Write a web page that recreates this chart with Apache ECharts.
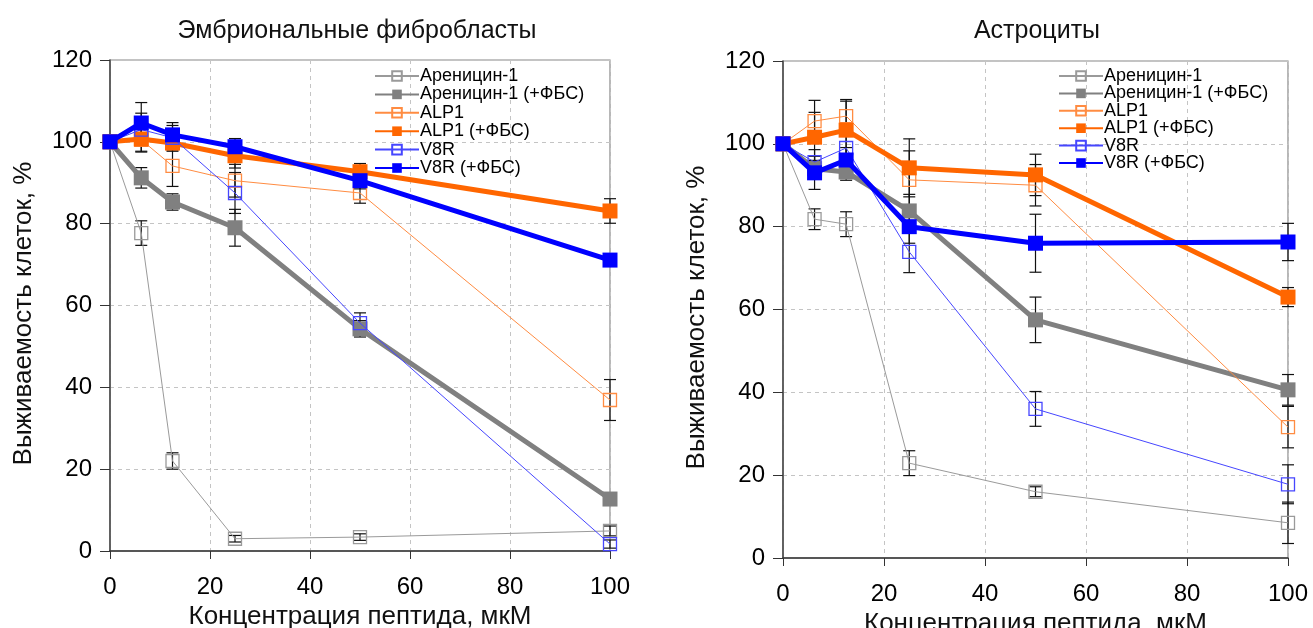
<!DOCTYPE html>
<html lang="ru">
<head>
    <meta charset="UTF-8">
    <title>Выживаемость клеток</title>
    <script src="https://cdn.jsdelivr.net/npm/echarts@6/dist/echarts.min.js"></script>
    <style>
        html, body { margin: 0; padding: 0; background: #fff; }
        #main { width: 1313px; height: 628px; }
    </style>
</head>
<body>
<div id="main"></div>
<script>
    // концентрации пептида, мкМ
    var conc = [0, 6.25, 12.5, 25, 50, 100];
    var names = ['Ареницин-1', 'Ареницин-1 (+ФБС)', 'ALP1', 'ALP1 (+ФБС)', 'V8R', 'V8R (+ФБС)'];
    var xTicks = [0, 20, 40, 60, 80, 100];
    var yTicks = [0, 20, 40, 60, 80, 100, 120];

    // Эмбриональные фибробласты
    var fibAr = [100, 77.7, 22.0, 3.0, 3.4, 4.9];
    var fibArErr = [0, 3, 2, 0.8, 0.8, 1.2];
    var fibArF = [100, 91.2, 85.3, 79.0, 54.3, 12.7];
    var fibArFErr = [0, 2.5, 2, 4.5, 2, 0.5];
    var fibAlp = [100, 100.5, 94.1, 90.5, 87.5, 36.9];
    var fibAlpErr = [0, 3, 5, 4, 2.5, 5];
    var fibAlpF = [100, 100.7, 99.7, 96.6, 92.7, 83.1];
    var fibAlpFErr = [0, 3, 2, 3, 2, 3];
    var fibV8 = [100, 103, 101, 87.5, 55.7, 1.7];
    var fibV8Err = [0, 4, 3, 5, 2.5, 1];
    var fibV8F = [100, 104.6, 101.7, 98.8, 90.5, 71.1];
    var fibV8FErr = [0, 5, 3, 2, 2, 1];

    // Астроциты
    var astAr = [100, 81.8, 80.6, 22.9, 16.0, 8.5];
    var astArErr = [0, 2.5, 3, 3, 1.2, 5];
    var astArF = [100, 94, 93.2, 83.8, 57.5, 40.6];
    var astArFErr = [0, 2, 2, 4, 5.5, 3.7];
    var astAlp = [100, 105.5, 106.7, 91.3, 90.0, 31.6];
    var astAlpErr = [0, 5, 4, 7, 5, 5];
    var astAlpF = [100, 101.6, 103.3, 94.2, 92.5, 63.0];
    var astAlpFErr = [0, 6, 7, 7, 5, 2.3];
    var astV8 = [100, 95.6, 99.0, 73.9, 36.0, 17.8];
    var astV8Err = [0, 3, 3, 5, 4.2, 4.7];
    var astV8F = [100, 93.0, 96.1, 80.0, 76.0, 76.3];
    var astV8FErr = [0, 4, 3, 4, 7, 4.5];

    // стиль серий: цвет, толщина линии, полый маркер или нет
    var styles = [
        {color: '#9a9a9a', width: 1, hollow: true},
        {color: '#808080', width: 5, hollow: false},
        {color: '#ff8c42', width: 1, hollow: true},
        {color: '#ff6600', width: 5, hollow: false},
        {color: '#4646ff', width: 1, hollow: true},
        {color: '#0000ff', width: 5, hollow: false}
    ];

    var font = 'Liberation Sans, Arial, sans-serif';

    function pairs(ys) {
        var out = [];
        for (var i = 0; i < conc.length; i++) out.push([conc[i], ys[i]]);
        return out;
    }

    function lineSeries(idx, ys, gi) {
        var st = styles[idx];
        return {
            name: names[idx],
            type: 'line',
            xAxisIndex: gi,
            yAxisIndex: gi,
            data: pairs(ys),
            symbol: 'rect',
            symbolSize: st.hollow ? 13 : 15,
            lineStyle: {color: st.color, width: st.width},
            itemStyle: st.hollow
                ? {color: 'rgba(255,255,255,0)', borderColor: st.color, borderWidth: 1.3}
                : {color: st.color, borderWidth: 0},
            emphasis: {disabled: true},
            z: 3 + idx
        };
    }

    function errSeries(ys, errs, gi) {
        var d = [];
        for (var i = 0; i < conc.length; i++) {
            if (errs[i] > 0) d.push([conc[i], ys[i], errs[i]]);
        }
        return {
            type: 'custom',
            xAxisIndex: gi,
            yAxisIndex: gi,
            data: d,
            z: 2,
            silent: true,
            renderItem: function (params, api) {
                var x = api.value(0), y = api.value(1), e = api.value(2);
                var top = api.coord([x, y + e]);
                var bot = api.coord([x, y - e]);
                var w = 6;
                var st = {stroke: '#111', lineWidth: 1.2};
                return {
                    type: 'group',
                    children: [
                        {type: 'line', shape: {x1: top[0], y1: top[1], x2: bot[0], y2: bot[1]}, style: st},
                        {type: 'line', shape: {x1: top[0] - w, y1: top[1], x2: top[0] + w, y2: top[1]}, style: st},
                        {type: 'line', shape: {x1: bot[0] - w, y1: bot[1], x2: bot[0] + w, y2: bot[1]}, style: st}
                    ]
                };
            }
        };
    }

    function xAxisFor(gi, gap) {
        return {
            type: 'value', gridIndex: gi, min: xTicks[0], max: xTicks[xTicks.length - 1], interval: 20,
            name: 'Концентрация пептида, мкМ', nameLocation: 'middle', nameGap: gap,
            nameTextStyle: {fontFamily: font, fontSize: 26, color: '#111'},
            axisLine: {show: true, onZero: false, lineStyle: {color: '#333', width: 1.5}},
            axisTick: {show: true, inside: false, length: 8, lineStyle: {color: '#333'}},
            axisLabel: {fontFamily: font, fontSize: 24, color: '#000', margin: 24},
            splitLine: {show: true, lineStyle: {color: '#c4c4c4', type: [4, 4]}}
        };
    }

    function yAxisFor(gi) {
        return {
            type: 'value', gridIndex: gi, min: yTicks[0], max: yTicks[yTicks.length - 1], interval: 20,
            name: 'Выживаемость клеток, %', nameLocation: 'middle', nameGap: 73,
            nameTextStyle: {fontFamily: font, fontSize: 26, color: '#111', padding: [0, 16, 0, 0]},
            axisLine: {show: true, onZero: false, lineStyle: {color: '#444', width: 1.5}},
            axisTick: {show: true, inside: false, length: 10, lineStyle: {color: '#333'}},
            axisLabel: {fontFamily: font, fontSize: 24, color: '#000', margin: 18},
            splitLine: {show: true, lineStyle: {color: '#c4c4c4', type: [4, 4]}}
        };
    }

    function legendFor(left, top, gap) {
        return {
            orient: 'vertical', left: left, top: top, padding: 0,
            itemWidth: 44, itemHeight: 12, itemGap: gap,
            data: names,
            selectedMode: false,
            textStyle: {fontFamily: font, fontSize: 18, lineHeight: 16, color: '#000', padding: [0, 0, 0, -4]}
        };
    }

    var myChart = echarts.init(document.getElementById('main'));

    var series = [];
    var fib = [fibAr, fibArF, fibAlp, fibAlpF, fibV8, fibV8F];
    var fibE = [fibArErr, fibArFErr, fibAlpErr, fibAlpFErr, fibV8Err, fibV8FErr];
    var ast = [astAr, astArF, astAlp, astAlpF, astV8, astV8F];
    var astE = [astArErr, astArFErr, astAlpErr, astAlpFErr, astV8Err, astV8FErr];
    for (var i = 0; i < names.length; i++) {
        series.push(errSeries(fib[i], fibE[i], 0));
        series.push(errSeries(ast[i], astE[i], 1));
    }
    for (var j = 0; j < names.length; j++) {
        series.push(lineSeries(j, fib[j], 0));
        series.push(lineSeries(j, ast[j], 1));
    }

    var option = {
        backgroundColor: '#fff',
        animation: false,
        title: [
            {text: 'Эмбриональные фибробласты', left: 352, top: 14, textAlign: 'center',
                textStyle: {fontFamily: font, fontSize: 25, fontWeight: 'normal', color: '#111'}},
            {text: 'Астроциты', left: 1032, top: 14, textAlign: 'center',
                textStyle: {fontFamily: font, fontSize: 25, fontWeight: 'normal', color: '#111'}}
        ],
        legend: [legendFor(374, 67, 0.4), legendFor(1058, 67, -0.6)],
        grid: [
            {left: 110, top: 60, width: 500, height: 491, show: true, borderColor: '#888', borderWidth: 1.2,
                outerBoundsMode: 'none'},
            {left: 783, top: 61, width: 505, height: 497, show: true, borderColor: '#888', borderWidth: 1.2,
                outerBoundsMode: 'none'}
        ],
        xAxis: [xAxisFor(0, 50), xAxisFor(1, 43)],
        yAxis: [yAxisFor(0), yAxisFor(1)],
        series: series
    };
    myChart.setOption(option);
</script>
</body>
</html>
